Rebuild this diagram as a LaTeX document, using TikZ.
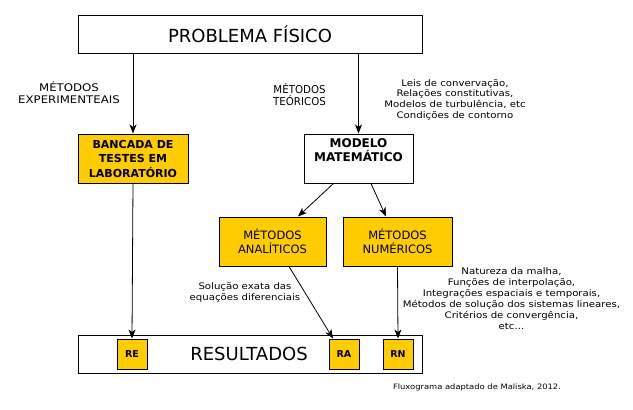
\documentclass[tikz,border=0pt]{standalone}
\usepackage{fontspec}
\setmainfont{DejaVu Sans}
\newfontfamily\smfont[FakeStretch=1.13]{DejaVu Sans}
\newfontfamily\widefont[FakeStretch=1.12]{DejaVu Sans}
\newfontfamily\narfont[FakeStretch=0.95]{DejaVu Sans}
\usetikzlibrary{arrows.meta}
\definecolor{amar}{HTML}{FFCC00}
\begin{document}
\begin{tikzpicture}[x=1pt,y=-1pt,
 box/.style={draw, line width=1pt, inner sep=0pt, align=center},
 ybox/.style={box, fill=amar},
 arr/.style={-{Stealth[length=9pt,width=7pt,inset=2.5pt]}, line width=0.8pt},
 small/.style={align=center, font=\smfont\fontsize{9}{10.7}\selectfont},
 rbox/.style={ybox, minimum width=30pt, minimum height=30pt, font=\fontsize{9.5}{11}\selectfont\bfseries}]
\useasboundingbox[fill=white] (0,0) rectangle (633,410);
\node[box, minimum width=344pt, minimum height=38pt, font=\fontsize{18}{21}\selectfont] (prob) at (250,34) {PROBLEMA FÍSICO};
\node[ybox, minimum width=110pt, minimum height=49pt, font=\fontsize{11}{14.5}\selectfont\bfseries] (ban) at (133,158.5) {BANCADA DE\\TESTES EM\\LABORATÓRIO};
\node[box, minimum width=109pt, minimum height=49pt] (mod) at (358.5,158.5) {};
\node[align=center, font=\fontsize{12}{13.7}\selectfont\bfseries] (modt) at (358.5,150) {MODELO\\MATEMÁTICO};
\node[ybox, minimum width=107pt, minimum height=49pt, font=\fontsize{11.5}{14}\selectfont] (ana) at (272.5,241.5) {MÉTODOS\\ANALÍTICOS};
\node[ybox, minimum width=109pt, minimum height=49pt, font=\fontsize{11.5}{14}\selectfont] (num) at (397.5,241.5) {MÉTODOS\\NUMÉRICOS};
\node[box, minimum width=344pt, minimum height=38pt] (res) at (250,354) {};
\node[font=\fontsize{18}{21}\selectfont] (rest) at (249,354) {RESULTADOS};
\node[rbox] (re) at (132,354) {RE};
\node[rbox] (ra) at (344,354) {RA};
\node[rbox] (rn) at (398,354) {RN};
\node[align=center, font=\widefont\fontsize{10.5}{11.5}\selectfont] (lexp) at (69,92.5) {MÉTODOS\\EXPERIMENTEAIS};
\node[align=center, font=\narfont\fontsize{10.8}{12}\selectfont] (lteo) at (299.5,94.5) {MÉTODOS\\TEÓRICOS};
\node[small] (leis) at (455,99.6) {Leis de convervação,\\Relações constitutivas,\\Modelos de turbulência, etc\\Condições de contorno};
\node[small, font=\smfont\fontsize{9}{11.1}\selectfont] (nat) at (511.5,298.5) {Natureza da malha,\\Funções de interpolação,\\Integrações espaciais e temporais,\\Métodos de solução dos sistemas lineares,\\Critérios de convergência,\\etc...};
\node[small, font=\smfont\fontsize{9}{11}\selectfont] (sol) at (245,292) {Solução exata das\\equações diferenciais};
\node[font=\smfont\fontsize{7.4}{9}\selectfont] (flux) at (477,387) {Fluxograma adaptado de Maliska, 2012.};
\draw[arr] (prob.south -| ban.north) -- (ban.north);
\draw[arr] (prob.south -| mod.north) -- (mod.north);
\draw[arr] ([xshift=-25pt]mod.south) -- ([xshift=25.5pt]ana.north);
\draw[arr] ([xshift=12.5pt]mod.south) -- ([xshift=-11.5pt]num.north);
\draw[arr] (ban.south) -- (re.north);
\draw[arr] ([xshift=16.5pt]ana.south) -- ([xshift=-11pt]ra.north);
\draw[arr] (num.south) -- (rn.north);
\end{tikzpicture}
\end{document}
